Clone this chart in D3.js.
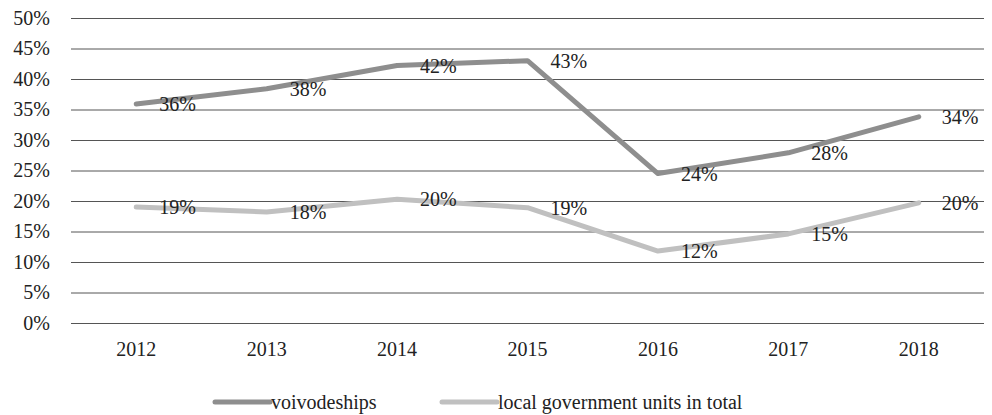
<!DOCTYPE html>
<html>
<head>
<meta charset="utf-8">
<script src="https://cdn.jsdelivr.net/npm/d3@7"></script>
<style>
  body { margin: 0; background: #fff; }
</style>
</head>
<body>
<div id="chart"></div>
<script>
// data
const years = ["2012", "2013", "2014", "2015", "2016", "2017", "2018"];
const voivodeships = [35.9, 38.4, 42.2, 43.0, 24.5, 27.9, 33.8];
const localUnits = [19.0, 18.2, 20.3, 18.9, 11.8, 14.6, 19.7];
const voivLabels = ["36%", "38%", "42%", "43%", "24%", "28%", "34%"];
const localLabels = ["19%", "18%", "20%", "19%", "12%", "15%", "20%"];
const yTicks = [0, 5, 10, 15, 20, 25, 30, 35, 40, 45, 50];

const svgWidth = 992;
const svgHeight = 415;
const serif = "Liberation Serif, DejaVu Serif, serif";

const margin = { top: 18, right: 8, bottom: 92, left: 71 };
const width = svgWidth - margin.left - margin.right;
const height = svgHeight - margin.top - margin.bottom;

const svg = d3.select("#chart")
  .append("svg")
  .attr("width", svgWidth)
  .attr("height", svgHeight);

const chartGroup = svg.append("g")
  .attr("transform", `translate(${margin.left}, ${margin.top})`);

const xScale = d3.scaleBand().domain(years).range([0, width]);
const yScale = d3.scaleLinear().domain([0, 50]).range([height, 0]);

// gridlines + y labels
const leftAxis = d3.axisLeft(yScale)
  .tickValues(yTicks)
  .tickSize(-width)
  .tickFormat(d => d + "%");

const yAxis = chartGroup.append("g").call(leftAxis);
yAxis.select(".domain").remove();
yAxis.selectAll(".tick line").attr("stroke", "#555").attr("stroke-width", 1);
yAxis.selectAll(".tick text")
  .attr("x", -21)
  .attr("font-size", 20)
  .style("font-family", serif)
  .attr("fill", "#222");

// x labels
const bottomAxis = d3.axisBottom(xScale).tickSize(0);
const xAxis = chartGroup.append("g")
  .attr("transform", `translate(0, ${height})`)
  .call(bottomAxis);
xAxis.select(".domain").remove();
xAxis.selectAll(".tick text")
  .attr("dy", 0)
  .attr("y", 33)
  .attr("font-size", 20)
  .style("font-family", serif)
  .attr("fill", "#222");

const cx = d => xScale(d) + xScale.bandwidth() / 2;

const series = [
  { name: "voivodeships", values: voivodeships, labels: voivLabels, color: "#8e8e8e" },
  { name: "local government units in total", values: localUnits, labels: localLabels, color: "#c0c0c0" }
];

const line = d3.line()
  .x((d, i) => cx(years[i]))
  .y(d => yScale(d));

series.forEach(s => {
  chartGroup.append("path")
    .datum(s.values)
    .attr("fill", "none")
    .attr("stroke", s.color)
    .attr("stroke-width", 5)
    .attr("stroke-linecap", "round")
    .attr("stroke-linejoin", "round")
    .attr("d", line);
});

// data labels to the right of each point
series.forEach(s => {
  chartGroup.append("g")
    .selectAll("text")
    .data(s.values)
    .enter()
    .append("text")
    .attr("x", (d, i) => cx(years[i]) + 23)
    .attr("y", d => yScale(d) + 7)
    .attr("font-size", 20)
    .style("font-family", serif)
    .attr("fill", "#222")
    .text((d, i) => s.labels[i]);
});

// legend
const legend = svg.append("g").attr("transform", "translate(0, 402)");
const legendPos = [215, 442];
series.forEach((s, i) => {
  legend.append("line")
    .attr("x1", legendPos[i])
    .attr("x2", legendPos[i] + 55)
    .attr("y1", 0)
    .attr("y2", 0)
    .attr("stroke", s.color)
    .attr("stroke-width", 5)
    .attr("stroke-linecap", "round");
  legend.append("text")
    .attr("x", legendPos[i] + 56)
    .attr("y", 7)
    .attr("font-size", 20)
    .style("font-family", serif)
    .attr("fill", "#222")
    .text(s.name);
});
</script>
</body>
</html>
